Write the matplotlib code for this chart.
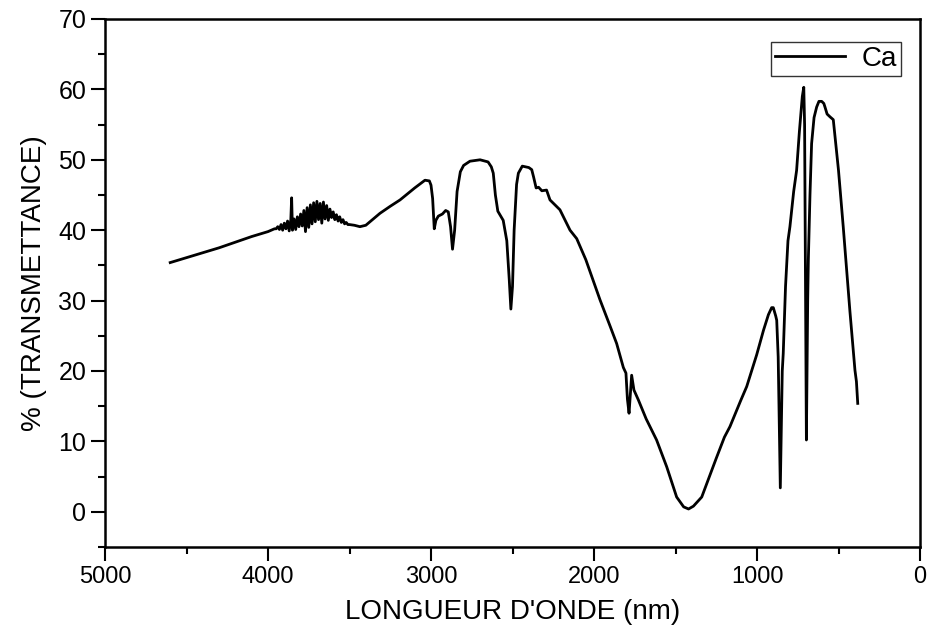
import matplotlib
matplotlib.use("Agg")
import matplotlib.pyplot as plt
from matplotlib.ticker import MultipleLocator

plt.rcParams['font.family'] = ['Liberation Sans', 'DejaVu Sans']

# Smooth part of the spectrum (wavelength nm, transmittance %)
wl_start = [4600, 4500, 4400, 4300, 4200, 4100, 4000, 3960]
tr_start = [35.4, 36.1, 36.8, 37.5, 38.3, 39.1, 39.8, 40.2]

# Noisy region
wl_noise = [3950, 3940, 3930, 3920, 3910, 3900, 3890, 3880, 3870, 3860, 3855, 3850,
            3840, 3830, 3820, 3810, 3800, 3790, 3780, 3770, 3760, 3750, 3740, 3730,
            3720, 3710, 3700, 3690, 3680, 3670, 3660, 3650, 3640, 3630, 3620, 3610,
            3600, 3590, 3580, 3570, 3560, 3550, 3540, 3530, 3520, 3510, 3500]
tr_noise = [40.2, 40.5, 40.1, 40.8, 40.0, 41.0, 40.2, 41.3, 39.9, 41.5, 44.6, 40.0,
            41.6, 40.1, 41.9, 40.5, 42.3, 40.6, 42.8, 39.8, 43.2, 40.4, 43.6, 40.9,
            43.9, 41.2, 44.1, 41.5, 43.8, 41.0, 44.0, 41.6, 43.5, 41.4, 43.0, 41.8,
            42.6, 41.5, 42.2, 41.3, 41.9, 41.1, 41.5, 40.9, 41.1, 40.8, 40.8]

wl_rest = [3470, 3436, 3400, 3313, 3250, 3190, 3100, 3037, 3010, 3000, 2990, 2980,
           2970, 2955, 2930, 2910, 2894, 2880, 2868, 2855, 2840, 2820, 2800, 2761,
           2699, 2650, 2630, 2618, 2605, 2590, 2557, 2535, 2520, 2510, 2500, 2490,
           2475, 2464, 2440, 2400, 2382, 2370, 2355, 2340, 2320, 2291, 2270, 2209,
           2147, 2120, 2106, 2050, 1963, 1900, 1861, 1820, 1804, 1795, 1785, 1775,
           1769, 1755, 1728, 1680, 1616, 1554, 1493, 1450, 1420, 1390, 1339, 1300,
           1250, 1200, 1166, 1100, 1063, 1002, 960, 930, 910, 900, 885, 879,
           870, 862, 857, 852, 845, 839, 825, 810, 798, 775, 757, 740,
           722, 713, 708, 702, 697, 693, 689, 685, 675, 665, 650, 634,
           620, 603, 590, 583, 570, 552, 532, 500, 471, 430, 399, 390, 382]
tr_rest = [40.7, 40.5, 40.7, 42.4, 43.4, 44.3, 46.0, 47.1, 47.0, 46.4, 44.5, 40.2,
           41.4, 42.0, 42.3, 42.8, 42.6, 40.5, 37.3, 40.0, 45.5, 48.3, 49.2, 49.8,
           50.0, 49.7, 49.0, 48.1, 45.0, 42.7, 41.4, 38.5, 33.0, 28.8, 32.0, 40.0,
           46.5, 48.1, 49.1, 48.9, 48.6, 47.5, 46.0, 46.1, 45.6, 45.7, 44.3, 42.9,
           40.0, 39.2, 38.8, 35.8, 30.1, 26.3, 23.9, 20.5, 19.7, 16.0, 14.0, 17.5,
           19.4, 17.3, 15.9, 13.2, 10.2, 6.4, 2.1, 0.7, 0.4, 0.8, 2.1, 4.5,
           7.6, 10.6, 12.1, 15.8, 17.8, 22.3, 25.8, 28.0, 29.0, 29.0, 27.8, 27.2,
           22.0, 10.0, 3.4, 10.0, 20.0, 22.5, 32.0, 38.5, 40.5, 45.5, 48.5, 54.0,
           59.0, 60.3, 55.0, 30.0, 10.2, 20.0, 30.0, 35.8, 45.0, 52.3, 56.0, 57.5,
           58.3, 58.3, 58.0, 57.5, 56.5, 56.1, 55.7, 48.5, 40.5, 28.5, 20.1, 18.5, 15.4]

wavelength = wl_start + wl_noise + wl_rest
transmittance = tr_start + tr_noise + tr_rest

x_ticks = [5000, 4000, 3000, 2000, 1000, 0]
y_ticks = [0, 10, 20, 30, 40, 50, 60, 70]

fig = plt.figure(figsize=(9.3, 6.34), dpi=100)
ax = fig.add_axes([105/930, 1-547/634, 815/930, 528/634])

ax.plot(wavelength, transmittance, color='black', lw=2.0, label='Ca')

ax.set_xlim(5000, 0)
ax.set_ylim(-5, 70)
ax.set_xticks(x_ticks)
ax.set_yticks(y_ticks)
ax.xaxis.set_minor_locator(MultipleLocator(500))
ax.yaxis.set_minor_locator(MultipleLocator(5))

for s in ax.spines.values():
    s.set_linewidth(1.8)

ax.tick_params(axis='both', which='major', direction='out', length=10, width=1.5,
               top=False, right=False)
ax.tick_params(axis='both', which='minor', direction='out', length=5, width=1.5,
               top=False, right=False)
ax.tick_params(axis='x', which='major', labelsize=17)
ax.tick_params(axis='y', which='major', labelsize=18)

ax.set_xlabel("LONGUEUR D'ONDE (nm)", fontsize=20, labelpad=8)
ax.set_ylabel("% (TRANSMETTANCE)", fontsize=20, labelpad=8)

leg = ax.legend(loc='upper right', bbox_to_anchor=(796/815, (547-42)/528),
                fontsize=20, frameon=True, fancybox=False, handlelength=2.5,
                borderpad=0.15, borderaxespad=0, handletextpad=0.6)
leg.get_frame().set_edgecolor('black')
leg.get_frame().set_linewidth(1.0)

fig.savefig('out.png', dpi=100)
